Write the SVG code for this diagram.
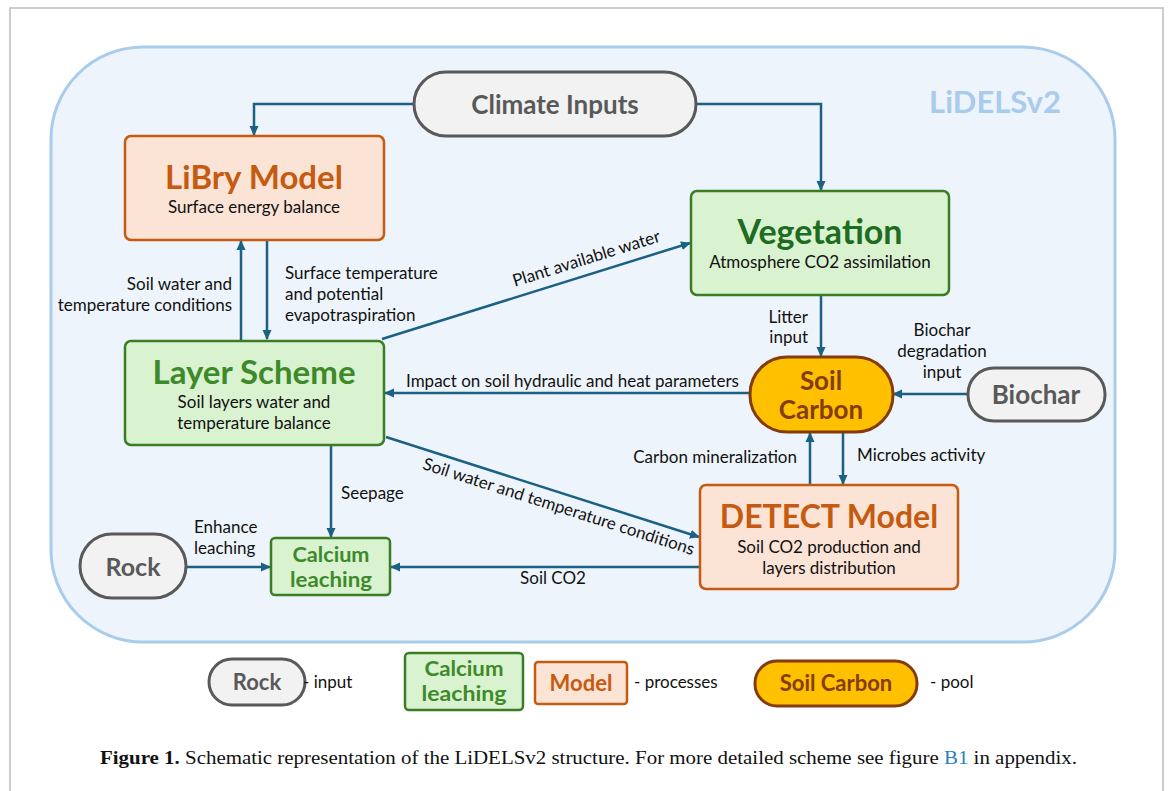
<svg xmlns="http://www.w3.org/2000/svg" width="1173" height="791" viewBox="0 0 1173 791">
<style>
  .conn { stroke: #1B6184; stroke-width: 2.5; fill: none; }
  .lbl { font-family: Lato, "Open Sans", sans-serif; font-size: 17px; fill: #111; }
  .sub { font-family: Lato, "Open Sans", sans-serif; font-size: 17px; fill: #111; text-anchor: middle; }
  .title { font-family: Lato, "Open Sans", sans-serif; font-weight: bold; text-anchor: middle; }
  .orange { fill: #FBE3D6; stroke: #C55A11; stroke-width: 2.5; }
  .green { fill: #D9F2D0; stroke: #3B7D23; stroke-width: 2.5; }
  .gray { fill: #F2F2F2; stroke: #595959; stroke-width: 3; }
  .pool { fill: #FFC000; stroke: #843C0C; stroke-width: 3; }
  .tOrange { fill: #C55A11; }
  .tGreen { fill: #3E8A2A; }
  .tDkGreen { fill: #1E6B22; }
  .tGray { fill: #595959; }
  .tBrown { fill: #843C0C; }
</style>
<defs>
  <marker id="ah" viewBox="0 0 10 10" refX="9" refY="5" markerWidth="10" markerHeight="10" markerUnits="userSpaceOnUse" orient="auto">
    <path d="M0,0.5 L10,5 L0,9.5 z" fill="#1B6184"/>
  </marker>
</defs>
<rect x="0" y="0" width="1173" height="791" fill="#ffffff"/>
<rect x="10" y="8" width="1153" height="820" fill="#ffffff" stroke="#BDBDBD" stroke-width="1.5"/>
<g id="container">
  <rect x="51" y="47" width="1064" height="595" rx="92" ry="92" fill="#EEF4FB" stroke="#A9CBEC" stroke-width="3"/>
  <text x="995" y="113" font-family="Lato, 'Open Sans', sans-serif" font-size="31" font-weight="bold" fill="#A9CBEC" text-anchor="middle">LiDELSv2</text>
</g>
<g id="connectors">
  <polyline class="conn" points="414,104 254,104 254,135" marker-end="url(#ah)"/>
  <polyline class="conn" points="696,104 821,104 821,190" marker-end="url(#ah)"/>
  <line class="conn" x1="241" y1="340" x2="241" y2="241" marker-end="url(#ah)"/>
  <line class="conn" x1="267" y1="240" x2="267" y2="339" marker-end="url(#ah)"/>
  <line class="conn" x1="382" y1="339" x2="690" y2="243" marker-end="url(#ah)"/>
  <line class="conn" x1="750" y1="393" x2="385" y2="393" marker-end="url(#ah)"/>
  <line class="conn" x1="821" y1="295" x2="821" y2="356" marker-end="url(#ah)"/>
  <line class="conn" x1="968" y1="394" x2="893" y2="394" marker-end="url(#ah)"/>
  <line class="conn" x1="810" y1="485" x2="810" y2="433" marker-end="url(#ah)"/>
  <line class="conn" x1="843" y1="432" x2="843" y2="484" marker-end="url(#ah)"/>
  <line class="conn" x1="386" y1="437" x2="699" y2="537" marker-end="url(#ah)"/>
  <line class="conn" x1="331" y1="446" x2="331" y2="537" marker-end="url(#ah)"/>
  <line class="conn" x1="186" y1="567" x2="270" y2="567" marker-end="url(#ah)"/>
  <line class="conn" x1="700" y1="567" x2="391" y2="567" marker-end="url(#ah)"/>
  <text class="lbl" x="232" y="290" text-anchor="end">Soil water and</text>
  <text class="lbl" x="232" y="311" text-anchor="end">temperature conditions</text>
  <text class="lbl" x="285" y="279">Surface temperature</text>
  <text class="lbl" x="285" y="300">and potential</text>
  <text class="lbl" x="285" y="321">evapotraspiration</text>
  <text class="lbl" x="588" y="264" text-anchor="middle" transform="rotate(-17.3 588 264)">Plant available water</text>
  <text class="lbl" x="406" y="387">Impact on soil hydraulic and heat parameters</text>
  <text class="lbl" x="808" y="323" text-anchor="end">Litter</text>
  <text class="lbl" x="808" y="343" text-anchor="end">input</text>
  <text class="lbl" x="942" y="336" text-anchor="middle">Biochar</text>
  <text class="lbl" x="942" y="357" text-anchor="middle">degradation</text>
  <text class="lbl" x="942" y="378" text-anchor="middle">input</text>
  <text class="lbl" x="797" y="463" text-anchor="end">Carbon mineralization</text>
  <text class="lbl" x="857" y="461">Microbes activity</text>
  <text class="lbl" x="557" y="512" text-anchor="middle" transform="rotate(17.7 557 512)">Soil water and temperature conditions</text>
  <text class="lbl" x="341" y="499">Seepage</text>
  <text class="lbl" x="194" y="533">Enhance</text>
  <text class="lbl" x="194" y="554">leaching</text>
  <text class="lbl" x="553" y="584" text-anchor="middle">Soil CO2</text>
</g>
<g id="climate-inputs">
  <rect class="gray" x="414" y="72" width="282" height="64" rx="32" ry="32"/>
  <text class="title tGray" x="555" y="114" font-size="26">Climate Inputs</text>
</g>
<g id="libry-model">
  <rect class="orange" x="125" y="136" width="259" height="104" rx="6" ry="6"/>
  <text class="title tOrange" x="254" y="189" font-size="33">LiBry Model</text>
  <text class="sub" x="254" y="213">Surface energy balance</text>
</g>
<g id="vegetation">
  <rect class="green" x="691" y="191" width="258" height="104" rx="6" ry="6"/>
  <text class="title tDkGreen" x="820" y="244" font-size="34">Vegetation</text>
  <text class="sub" x="820" y="268">Atmosphere CO2 assimilation</text>
</g>
<g id="layer-scheme">
  <rect class="green" x="125" y="341" width="259" height="104" rx="6" ry="6"/>
  <text class="title tGreen" x="254" y="384" font-size="33">Layer Scheme</text>
  <text class="sub" x="254" y="408">Soil layers water and</text>
  <text class="sub" x="254" y="429">temperature balance</text>
</g>
<g id="soil-carbon">
  <rect class="pool" x="750" y="357" width="143" height="75" rx="37" ry="37"/>
  <text class="title tBrown" x="821" y="390" font-size="26"><tspan x="821">Soil</tspan><tspan x="821" dy="29">Carbon</tspan></text>
</g>
<g id="biochar">
  <rect class="gray" x="968" y="368" width="137" height="53" rx="26" ry="26"/>
  <text class="title tGray" x="1036" y="404" font-size="26">Biochar</text>
</g>
<g id="detect-model">
  <rect class="orange" x="700" y="485" width="258" height="104" rx="6" ry="6"/>
  <text class="title tOrange" x="829" y="528" font-size="32">DETECT Model</text>
  <text class="sub" x="829" y="553">Soil CO2 production and</text>
  <text class="sub" x="829" y="574">layers distribution</text>
</g>
<g id="rock">
  <rect class="gray" x="80" y="534" width="106" height="64" rx="32" ry="32"/>
  <text class="title tGray" x="133" y="576" font-size="25">Rock</text>
</g>
<g id="calcium-leaching">
  <rect class="green" x="271" y="538" width="119" height="57" rx="4" ry="4"/>
  <text class="title tGreen" x="331" y="562" font-size="20.5" textLength="77" lengthAdjust="spacingAndGlyphs">Calcium</text>
  <text class="title tGreen" x="331" y="587" font-size="20.5" textLength="82" lengthAdjust="spacingAndGlyphs">leaching</text>
</g>
<g id="legend">
  <rect class="gray" x="209" y="659" width="96" height="46" rx="23" ry="23"/>
  <text class="title tGray" x="257" y="690" font-size="22">Rock</text>
  <text class="lbl" x="303" y="688" font-size="16">- input</text>
  <rect class="green" x="405" y="653" width="118" height="57" rx="4" ry="4"/>
  <text class="title tGreen" x="464" y="676" font-size="20.5" textLength="79" lengthAdjust="spacingAndGlyphs">Calcium</text>
  <text class="title tGreen" x="464" y="701" font-size="20.5" textLength="85" lengthAdjust="spacingAndGlyphs">leaching</text>
  <rect class="orange" x="535" y="662" width="92" height="42" rx="3" ry="3"/>
  <text class="title tOrange" x="581" y="691" font-size="22">Model</text>
  <text class="lbl" x="634" y="688" font-size="16">- processes</text>
  <rect class="pool" x="755" y="661" width="162" height="45" rx="22" ry="22"/>
  <text class="title tBrown" x="836" y="691" font-size="22">Soil Carbon</text>
  <text class="lbl" x="930" y="688" font-size="16">- pool</text>
</g>
<g id="caption">
  <text x="100" y="764" font-family="'Liberation Serif', serif" font-size="18" fill="#111" textLength="977" lengthAdjust="spacingAndGlyphs"><tspan font-weight="bold">Figure 1.</tspan> Schematic representation of the LiDELSv2 structure. For more detailed scheme see figure <tspan fill="#2A7FBF">B1</tspan> in appendix.</text>
</g>
</svg>
